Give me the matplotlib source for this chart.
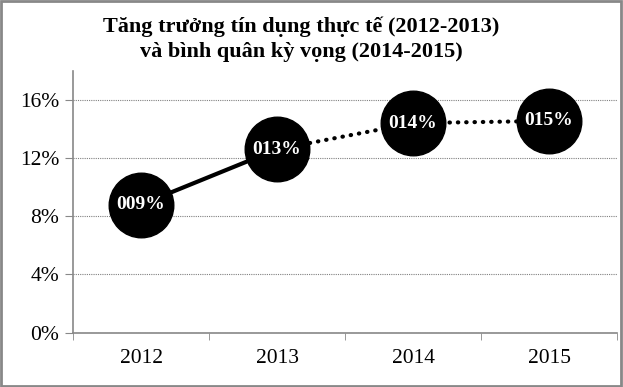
import matplotlib
matplotlib.use("Agg")
import matplotlib.pyplot as plt
from matplotlib.patches import Rectangle
from matplotlib.ticker import FixedLocator, PercentFormatter

# data
years = ["2012", "2013", "2014", "2015"]
credit_growth = [8.8, 12.6, 14.4, 14.55]  # %
point_labels = ["009%", "013%", "014%", "015%"]
n_actual = 2  # 2012-2013 actual, rest expected

title_lines = ["Tăng trưởng tín dụng thực tế (2012-2013)",
               "và bình quân kỳ vọng (2014-2015)"]

plt.rcParams["font.family"] = ["Liberation Serif", "DejaVu Serif"]

fig = plt.figure(figsize=(6.23, 3.87), dpi=100)
ax = fig.add_axes([0.1172, 0.1403, 0.8732, 0.677])

x = list(range(len(years)))

# actual: solid line, expected: dotted line
ax.plot(x[:n_actual], credit_growth[:n_actual], color="black", lw=3,
        solid_capstyle="butt", zorder=2)
ax.plot(x[n_actual - 1:], credit_growth[n_actual - 1:], color="black", lw=3,
        linestyle=(0, (0.1, 1.9)), dash_capstyle="round", zorder=2)
ax.plot(x, credit_growth, linestyle="none", marker="o", markersize=46.5,
        markerfacecolor="black", markeredgecolor="black", zorder=3)

for xi, yi, lab in zip(x, credit_growth, point_labels):
    ax.text(xi, yi, lab, color="white", fontsize=14, fontweight="bold",
            ha="center", va="center", zorder=4)

ax.set_xlim(-0.5, len(years) - 0.5)
ax.set_ylim(0, 18)
ax.yaxis.set_major_locator(FixedLocator([0, 4, 8, 12, 16]))
ax.yaxis.set_major_formatter(PercentFormatter(decimals=0))
ax.set_xticks(x)
ax.set_xticklabels(years)
ax.xaxis.set_minor_locator(FixedLocator([i - 0.5 for i in range(len(years) + 1)]))
ax.tick_params(axis="x", which="major", length=0, pad=12, labelsize=15.5)
ax.tick_params(axis="x", which="minor", length=5, color="#888888", direction="out")
ax.tick_params(axis="y", length=6, color="#888888", pad=4, labelsize=15.5)

ax.grid(axis="y", color="#808080", linestyle=(0, (1, 1)), lw=0.8)
ax.set_axisbelow(True)
for side in ["top", "right"]:
    ax.spines[side].set_visible(False)
for side in ["left", "bottom"]:
    ax.spines[side].set_color("#888888")
    ax.spines[side].set_linewidth(1.2)

# title: two centred lines, baselines at ~32px and ~57px from the top
for line, y_base in zip(title_lines, [0.917, 0.853]):
    fig.text(0.483, y_base, line, ha="center", va="baseline", fontsize=16,
             fontweight="bold")

fig.patches.append(Rectangle((0.002, 0.003), 0.994, 0.994, transform=fig.transFigure,
                             fill=False, edgecolor="#888888", lw=2))

fig.savefig("out.png", dpi=100)
